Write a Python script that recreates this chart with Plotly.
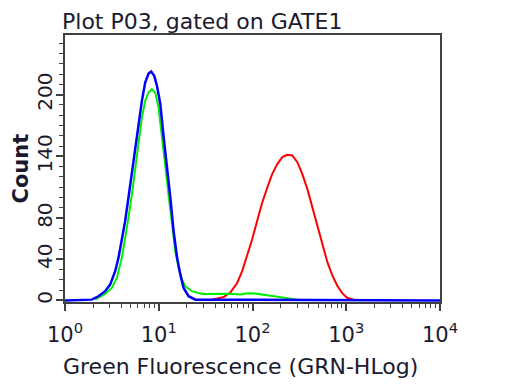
import plotly.graph_objects as go

# ---- data ----
blue_x = [1, 1.93, 2.27, 2.68, 3.03, 3.43, 3.72, 4.04, 4.38, 4.75, 5.17, 5.61, 6.08, 6.61, 7.17, 7.78,
          8.31, 8.95, 9.57, 10.4, 11.2, 12.2, 13.3, 14.4, 15.7, 17.0, 18.4, 20.8, 24.6, 10000]
blue_y = [0, 0.8, 4.1, 9.0, 15.4, 28.4, 41.4, 59.2, 77.1, 99.8, 124.1, 148.5, 174.5, 194.0, 211.8, 220.5,
          222.5, 218.3, 208.6, 190.7, 161.4, 132.2, 99.8, 67.4, 41.4, 25.1, 12.2, 4.1, 0.8, 0]

green_x = [2.09, 2.68, 3.16, 3.57, 4.04, 4.38, 4.75, 5.17, 5.61, 6.08, 6.61, 7.17, 7.78, 8.46, 9.18,
           9.95, 10.8, 11.7, 12.7, 13.8, 15.0, 16.3, 17.7, 19.2, 22.6, 29.0, 40.2, 58.2, 74.4, 84.2,
           100, 116, 138, 199, 303]
green_y = [0.8, 6.3, 12.2, 21.9, 41.4, 59.2, 80.3, 103.0, 129.0, 153.4, 177.7, 194.0, 202.0, 205.3, 202.0,
           187.4, 161.4, 132.2, 103.0, 73.8, 47.9, 31.6, 20.3, 13.8, 9.0, 6.3, 6.6, 6.6, 5.8, 6.8,
           7.1, 6.3, 5.4, 3.4, 0.8]

red_x = [37.1, 49.3, 58.2, 68.6, 77.6, 87.8, 99.3, 112, 127, 144, 162, 184, 208, 235, 266, 301, 340,
         385, 435, 492, 557, 630, 712, 805, 911, 1030, 1211]
red_y = [0.8, 3.4, 8.0, 17.0, 28.5, 43.1, 59.4, 77.3, 95.2, 109.8, 122.8, 132.5, 139.3, 141.5, 140.9,
         134.4, 122.8, 108.2, 90.6, 71.1, 53.3, 37.0, 24.1, 14.1, 6.9, 2.4, 0.8]

x_tick_vals = [1, 10, 100, 1000, 10000]
x_tick_text = ["10<sup>0</sup>", "10<sup>1</sup>", "10<sup>2</sup>", "10<sup>3</sup>", "10<sup>4</sup>"]
y_tick_vals = [0, 40, 80, 140, 200]
y_tick_text = ["0", "40", "80", "140", "200"]

title_text = "Plot P03, gated on GATE1"
x_title = "Green Fluorescence (GRN-HLog)"
y_title = "Count"

FONT = "DejaVu Sans"
TXT = "#1a1a2e"
AX = "#404040"

fig = go.Figure()
fig.add_trace(go.Scatter(x=red_x, y=red_y, mode="lines", line=dict(color="#ff0000", width=2), showlegend=False))
fig.add_trace(go.Scatter(x=green_x, y=green_y, mode="lines", line=dict(color="#00ee00", width=2), showlegend=False))
fig.add_trace(go.Scatter(x=blue_x, y=blue_y, mode="lines", line=dict(color="#0000ff", width=2.5), showlegend=False))

minor_x = [m * 10 ** k for k in range(4) for m in range(2, 10)]

# page has an 8px body margin, so the figure is 8px smaller than the window
fig.update_layout(
    width=504, height=376,
    margin=dict(l=57, r=72, t=27, b=82),
    paper_bgcolor="white", plot_bgcolor="white",
    font=dict(family=FONT, color=TXT),
    xaxis=dict(type="log", range=[0, 4], showgrid=False, zeroline=False,
               showline=True, linecolor=AX, linewidth=2, mirror=True,
               ticks="outside", ticklen=7, tickwidth=1.5, tickcolor=AX,
               tickvals=x_tick_vals, ticktext=x_tick_text, ticklabelstandoff=6,
               tickfont=dict(family=FONT, size=21, color=TXT),
               minor=dict(tickvals=minor_x, ticks="outside", ticklen=4, tickcolor=AX, tickwidth=1)),
    yaxis=dict(range=[-1.5, 258], showgrid=False, zeroline=False,
               showline=True, linecolor=AX, linewidth=2, mirror=True,
               ticks="outside", ticklen=7, tickwidth=1.5, tickcolor=AX,
               tickvals=y_tick_vals, ticktext=y_tick_text, tickangle=-90, ticklabelstandoff=-4,
               tickfont=dict(family=FONT, size=20, color=TXT),
               minor=dict(dtick=10, tick0=0, ticks="outside", ticklen=4, tickcolor=AX, tickwidth=1)),
    annotations=[
        dict(text=title_text, xref="paper", yref="paper", x=0, xshift=-5, y=1.0, yshift=-1,
             xanchor="left", yanchor="bottom", showarrow=False,
             font=dict(family=FONT, size=22, color=TXT)),
        dict(text=x_title, xref="paper", yref="paper", x=0.469, y=0, yshift=-64,
             xanchor="center", yanchor="middle", showarrow=False,
             font=dict(family=FONT, size=22, color=TXT)),
        dict(text="<b>" + y_title + "</b>", xref="paper", yref="paper", x=0, xshift=-45, y=0.5,
             xanchor="center", yanchor="middle", textangle=-90, showarrow=False,
             font=dict(family=FONT, size=21, color=TXT)),
    ],
)

fig.write_html("out.html")
